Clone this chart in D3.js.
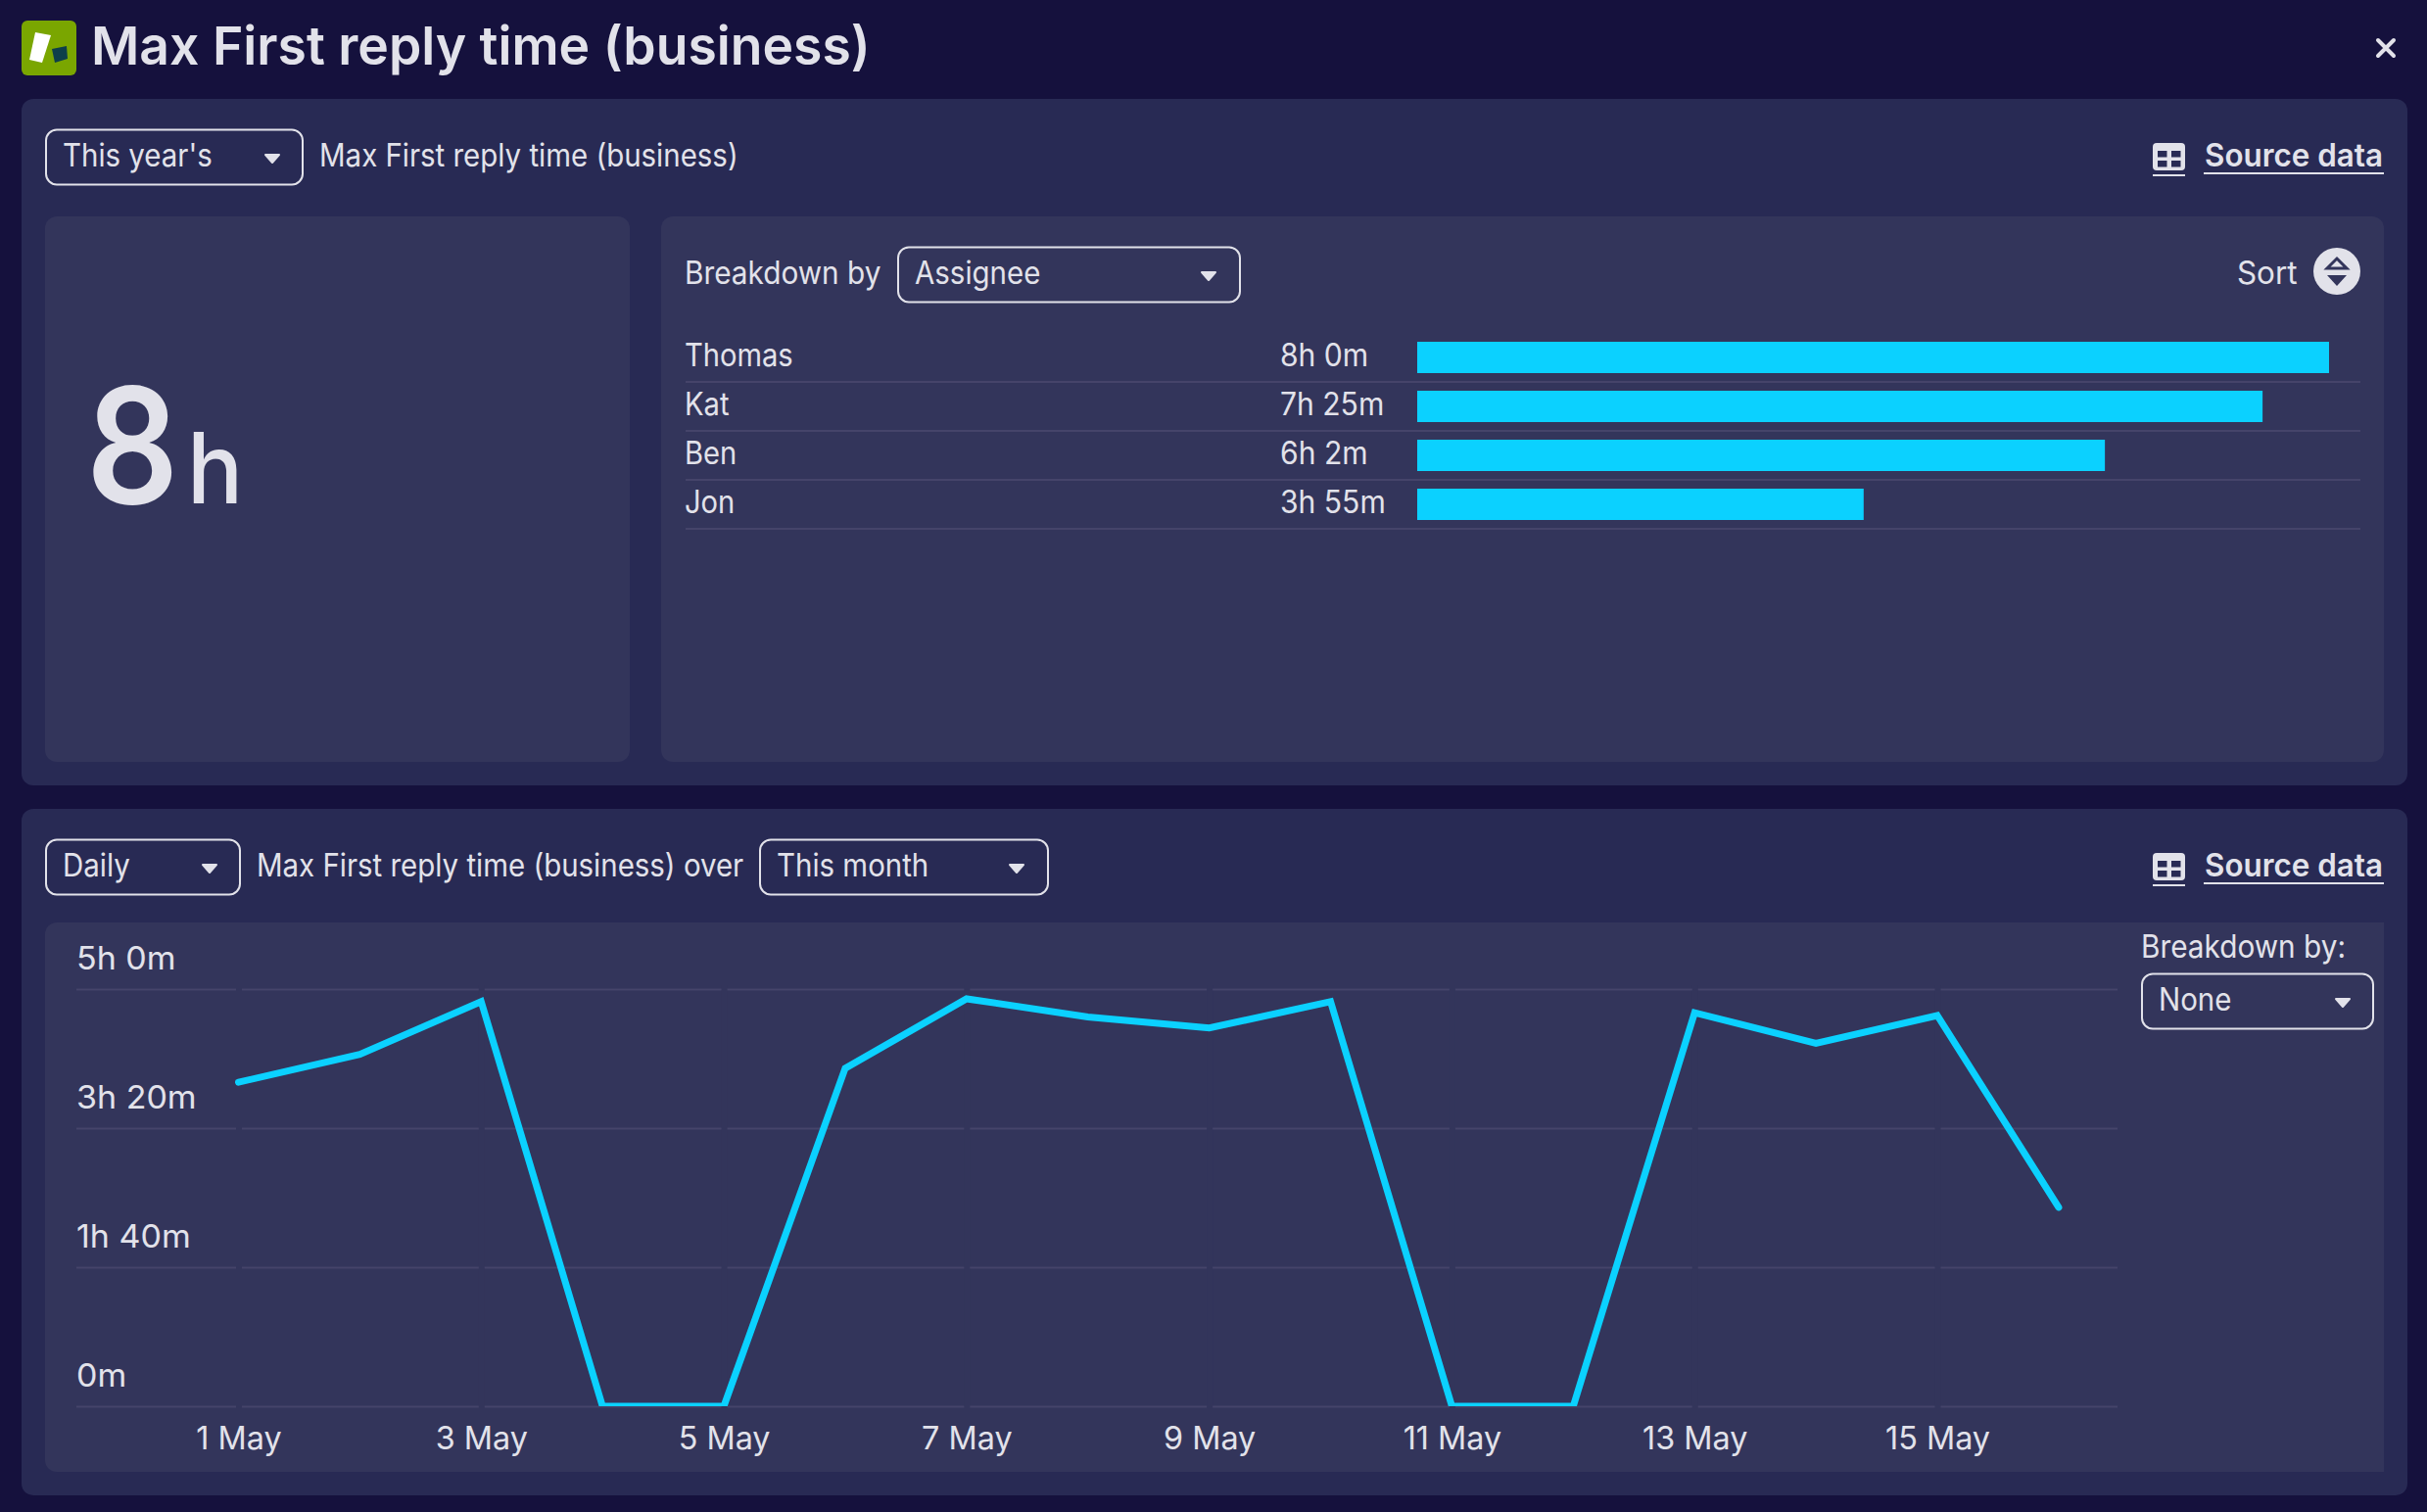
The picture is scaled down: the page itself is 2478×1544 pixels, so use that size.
<!DOCTYPE html>
<html>
<head>
	<title>Max First reply time (business)</title>
	<style>
		body { margin: 0; background: #15113d; }
		svg { display: block; }
		text { font-family: Inter, Roboto, sans-serif; fill: #e2e2ea; }
	</style>
</head>
<body>
	<div id="chart"></div>

	<script src="https://cdn.jsdelivr.net/npm/d3@7/dist/d3.min.js"></script>
	<script type="text/javascript">
		// breakdown by assignee, minutes
		var assignees = ['Thomas', 'Kat', 'Ben', 'Jon'];
		var assigneeMinutes = [480, 445, 362, 235];
		var assigneeLabels = ['8h 0m', '7h 25m', '6h 2m', '3h 55m'];

		// daily max, minutes
		var days = [1, 2, 3, 4, 5, 6, 7, 8, 9, 10, 11, 12, 13, 14, 15, 16];
		var dailyMinutes = [233, 253, 291, 0, 0, 243, 293, 280, 272, 291, 0, 0, 283, 261, 281, 143];

		var xTickDays = [1, 3, 5, 7, 9, 11, 13, 15];
		var xTickLabels = ['1 May', '3 May', '5 May', '7 May', '9 May', '11 May', '13 May', '15 May'];
		var yTickMinutes = [0, 100, 200, 300];
		var yTickLabels = ['0m', '1h 40m', '3h 20m', '5h 0m'];

		var BG = '#15113d', PANEL = '#282a54', CARD = '#33355b', GRID = '#45446a',
			TEXT = '#e2e2ea', CYAN = '#0bd1ff';

		var svg = d3.select('#chart').append('svg')
			.attr('width', 2478)
			.attr('height', 1544);

		// the reference font is narrower than anything installed
		function label(x, y, str, size, opts) {
			opts = opts || {};
			var t = svg.append('text')
				.attr('x', x)
				.attr('y', y + 1)
				.attr('font-size', size)
				.attr('font-weight', opts.weight || 400)
				.attr('text-anchor', opts.anchor || 'start')
				.text(str);
			squeeze(t, opts.squeeze || 0.92);
			return t;
		}

		function squeeze(sel, k) {
			sel.each(function() {
				d3.select(this)
					.attr('lengthAdjust', 'spacingAndGlyphs')
					.attr('textLength', this.getComputedTextLength() * k);
			});
		}

		function box(x, y, w, h, fill, r) {
			svg.append('rect')
				.attr('x', x).attr('y', y)
				.attr('width', w).attr('height', h)
				.attr('rx', r).attr('fill', fill);
		}

		function arrow(cx, cy) {
			svg.append('path')
				.attr('d', 'M' + (cx - 7) + ',' + (cy - 4) + 'H' + (cx + 7) + 'L' + cx + ',' + (cy + 4) + 'Z')
				.attr('fill', TEXT)
				.attr('stroke', TEXT)
				.attr('stroke-width', 2)
				.attr('stroke-linejoin', 'round');
		}

		function dropdown(x, y, w, str, arrowX) {
			svg.append('rect')
				.attr('x', x).attr('y', y + 0.5)
				.attr('width', w).attr('height', 56)
				.attr('rx', 11)
				.attr('fill', 'none')
				.attr('stroke', TEXT)
				.attr('stroke-width', 2);
			label(x + 17, y + 37, str, 32);
			arrow(arrowX, y + 30);
		}

		function sourceData(dy) {
			box(2198, 146 + dy, 33, 28, TEXT, 4);
			[[2203, 154], [2217, 154], [2203, 164], [2217, 164]].forEach(function(c) {
				box(c[0], c[1] + dy, 9.5, 6.5, PANEL, 0);
			});
			box(2198, 178 + dy, 33, 2, TEXT, 0);
			label(2251, 169 + dy, 'Source data', 32, { weight: 600, squeeze: 0.98 });
			box(2250, 176 + dy, 184, 2, TEXT, 0);
		}

		// header
		box(22, 21, 56, 56, '#7aa600', 6);
		svg.append('path').attr('d', 'M36,33L52,36L43,64L30,61Z').attr('fill', '#fff');
		svg.append('path').attr('d', 'M53,50L68,47L69,60L56,64Z').attr('fill', '#0e3f4a');
		label(93, 65, 'Max First reply time (business)', 54, { weight: 600, squeeze: 0.99 });
		svg.append('path')
			.attr('d', 'M2428,41L2444,57M2444,41L2428,57')
			.attr('stroke', TEXT)
			.attr('stroke-width', 4)
			.attr('stroke-linecap', 'round');

		// top panel
		box(22, 101, 2436, 701, PANEL, 12);
		box(46, 221, 597, 557, CARD, 12);
		box(675, 221, 1759, 557, CARD, 12);
		dropdown(47, 132, 262, "This year's", 278);
		label(326, 169, 'Max First reply time (business)', 32);
		sourceData(0);

		// headline number
		label(88, 513, '8', 164, { weight: 600, squeeze: 0.9 });
		label(191, 513, 'h', 100, { weight: 500, squeeze: 0.95 });

		// breakdown bars
		label(699, 289, 'Breakdown by', 32, { squeeze: 0.93 });
		dropdown(917, 252, 349, 'Assignee', 1234);
		label(2284, 289, 'Sort', 32, { squeeze: 0.98 });

		svg.append('circle').attr('cx', 2386).attr('cy', 277).attr('r', 24).attr('fill', TEXT);
		svg.append('path')
			.attr('d', 'M2386,264L2396,274H2376Z')
			.attr('fill', 'none')
			.attr('stroke', CARD)
			.attr('stroke-width', 3);
		svg.append('path').attr('d', 'M2376,281H2396L2386,292Z').attr('fill', CARD);

		var barX = d3.scaleLinear()
			.domain([0, 480])
			.range([1447, 2378]);

		var rowY = d3.scaleBand()
			.domain(assignees)
			.range([340, 540]);

		var rows = svg.selectAll('.row')
			.data(assignees)
			.enter().append('g')
			.attr('class', 'row')
			.attr('transform', function(d) { return 'translate(0,' + rowY(d) + ')'; });

		rows.append('line')
			.attr('x1', 700).attr('x2', 2410)
			.attr('y1', rowY.bandwidth()).attr('y2', rowY.bandwidth())
			.attr('stroke', GRID)
			.attr('stroke-width', 2);

		rows.append('rect')
			.attr('x', barX(0))
			.attr('y', 9)
			.attr('height', 32)
			.attr('width', function(d, i) { return barX(assigneeMinutes[i]) - barX(0); })
			.attr('fill', CYAN);

		rows.append('text')
			.attr('x', 699).attr('y', 34)
			.attr('font-size', 32)
			.text(function(d) { return d; })
			.call(squeeze, 0.91);

		rows.append('text')
			.attr('x', 1307).attr('y', 34)
			.attr('font-size', 32)
			.text(function(d, i) { return assigneeLabels[i]; })
			.call(squeeze, 0.94);

		// bottom panel
		box(22, 826, 2436, 701, PANEL, 12);
		svg.append('path')
			.attr('d', 'M2434,942V1503H58A12,12 0 0 1 46,1491V954A12,12 0 0 1 58,942Z')
			.attr('fill', CARD);
		dropdown(47, 857, 198, 'Daily', 214);
		label(262, 894, 'Max First reply time (business) over', 32);
		dropdown(776, 857, 294, 'This month', 1038);
		sourceData(725);

		label(2186, 977, 'Breakdown by:', 32, { squeeze: 0.93 });
		dropdown(2187, 994, 236, 'None', 2392);

		// line chart
		var x = d3.scaleLinear()
			.domain([1, 15])
			.range([243.5, 1978]);

		var y = d3.scaleLinear()
			.domain([0, 300])
			.range([1436, 1010]);

		var yAxis = d3.axisLeft(y)
			.tickValues(yTickMinutes)
			.tickSize(-2084)
			.tickPadding(0)
			.tickFormat(function(d, i) { return yTickLabels[i]; });

		var yG = svg.append('g')
			.attr('transform', 'translate(78,0)')
			.call(yAxis);
		yG.select('.domain').remove();
		yG.selectAll('.tick line').attr('stroke', GRID).attr('stroke-width', 2);
		yG.selectAll('.tick text')
			.attr('x', 0)
			.attr('dy', -21)
			.attr('text-anchor', 'start')
			.attr('font-family', 'Inter, Roboto, sans-serif')
			.attr('font-size', 33)
			.attr('fill', TEXT)
			.call(squeeze, 1.03);

		// the x ticks punch small gaps through the gridlines
		var xAxis = d3.axisBottom(x)
			.tickValues(xTickDays)
			.tickSize(-432)
			.tickPadding(0)
			.tickFormat(function(d, i) { return xTickLabels[i]; });

		var xG = svg.append('g')
			.attr('transform', 'translate(0,1438)')
			.call(xAxis);
		xG.select('.domain').remove();
		xG.selectAll('.tick line').attr('stroke', CARD).attr('stroke-width', 6);
		xG.selectAll('.tick text')
			.attr('y', 42)
			.attr('dy', 0)
			.attr('font-family', 'Inter, Roboto, sans-serif')
			.attr('font-size', 33)
			.attr('fill', TEXT)
			.call(squeeze, 0.98);

		svg.append('clipPath')
			.attr('id', 'plot')
			.append('rect')
			.attr('x', 0).attr('y', 942)
			.attr('width', 2478).attr('height', 494);

		var line = d3.line()
			.x(function(d, i) { return x(days[i]); })
			.y(function(d) { return y(d); });

		svg.append('path')
			.datum(dailyMinutes)
			.attr('d', line)
			.attr('clip-path', 'url(#plot)')
			.attr('fill', 'none')
			.attr('stroke', CYAN)
			.attr('stroke-width', 7)
			.attr('stroke-linecap', 'round')
			.attr('stroke-linejoin', 'miter');
	</script>
</body>
</html>
